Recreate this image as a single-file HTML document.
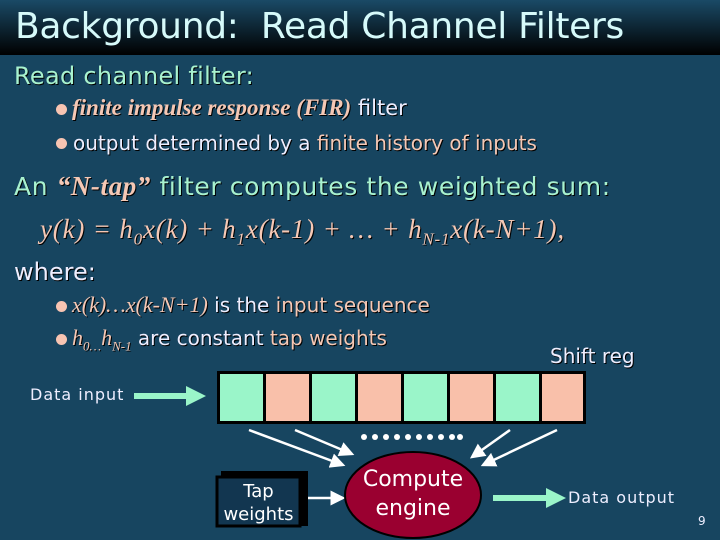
<html><head><style>
body{margin:0;width:720px;height:540px;overflow:hidden;background:#174560;font-family:"DejaVu Sans","Liberation Sans",sans-serif;position:relative}
.t{position:absolute;white-space:nowrap}
.s{font-family:"Liberation Serif",serif;font-style:italic}
.b{position:absolute;width:11px;height:11px;border-radius:50%;background:#f7c4b2}
</style></head><body>
<div style="position:absolute;left:0;top:0;width:720px;height:55px;background:linear-gradient(#1a4a66,#000)"></div>
<div class="t" style="left:15px;top:6px;font-size:36px;color:#d6fafa;letter-spacing:-0.3px">Background:&nbsp; Read Channel Filters</div>
<div class="t" style="left:14px;top:62px;font-size:24px;color:#a8f2cf;text-shadow:1px 1px #000;letter-spacing:0.3px">Read channel filter:</div>
<div class="b" style="left:56px;top:104px"></div>
<div class="t" style="left:72px;top:95px;font-size:21px;color:#f5c8b5;text-shadow:1px 1px #000"><span class="s" style="font-weight:bold;font-size:23px">finite impulse response (FIR)</span> <span style="color:#eef">filter</span></div>
<div class="b" style="left:56px;top:138px"></div>
<div class="t" style="left:73px;top:131px;font-size:20px;color:#eef;text-shadow:1px 1px #000">output determined by a <span style="color:#f5c8b5">finite history of inputs</span></div>
<div class="t" style="left:14px;top:171px;font-size:25px;color:#a8f2cf;text-shadow:1px 1px #000;letter-spacing:0.6px">An <span class="s" style="color:#f5c8b5;font-weight:bold;font-size:27px">“N-tap”</span> filter computes the weighted sum:</div>
<div class="t s" style="left:40px;top:214px;font-size:27px;color:#f5c8b5;text-shadow:1px 1px #000;letter-spacing:0.8px">y(k) = h<sub style="font-size:17px">0</sub>x(k) + h<sub style="font-size:17px">1</sub>x(k-1) + … + h<sub style="font-size:17px">N-1</sub>x(k-N+1),</div>
<div class="t" style="left:14px;top:258px;font-size:24px;color:#eef;text-shadow:1px 1px #000">where:</div>
<div class="b" style="left:56px;top:301px"></div>
<div class="t" style="left:72px;top:292px;font-size:20px;color:#eef;text-shadow:1px 1px #000"><span class="s" style="color:#f5c8b5;font-size:22px">x(k)…x(k-N+1)</span> is the <span style="color:#f5c8b5">input sequence</span></div>
<div class="b" style="left:56px;top:334px"></div>
<div class="t" style="left:72px;top:325px;font-size:20px;color:#eef;text-shadow:1px 1px #000"><span class="s" style="color:#f5c8b5;font-size:22px">h<sub style="font-size:13px">0…</sub>h<sub style="font-size:13px">N-1</sub></span> are constant <span style="color:#f5c8b5">tap weights</span></div>
<div class="t" style="left:550px;top:344px;font-size:20px;color:#eef;text-shadow:1px 1px #000">Shift reg</div>
<div class="t" style="left:30px;top:385px;font-size:16px;color:#eef;letter-spacing:1px">Data input</div>
<div class="t" style="left:568px;top:488px;font-size:16px;color:#eef;letter-spacing:1px">Data output</div>
<div class="t" style="left:698px;top:514px;font-size:12px;color:#eef">9</div>
<svg width="720" height="540" style="position:absolute;left:0;top:0">
<defs><marker id="a" markerWidth="6" markerHeight="6" refX="5" refY="3" orient="auto"><path d="M0,0L6,3L0,6z" fill="#fff"/></marker></defs>
<rect x="217" y="371" width="369" height="53" fill="#000"/>
<g>
<rect x="220" y="374" width="43" height="47" fill="#9af5c9"/>
<rect x="266" y="374" width="43" height="47" fill="#f9c0aa"/>
<rect x="312" y="374" width="43" height="47" fill="#9af5c9"/>
<rect x="358" y="374" width="43" height="47" fill="#f9c0aa"/>
<rect x="404" y="374" width="43" height="47" fill="#9af5c9"/>
<rect x="450" y="374" width="43" height="47" fill="#f9c0aa"/>
<rect x="496" y="374" width="43" height="47" fill="#9af5c9"/>
<rect x="542" y="374" width="41" height="47" fill="#f9c0aa"/>
</g>
<path d="M134,396H190" stroke="#9af5c9" stroke-width="6"/><path d="M186,386L206,396L186,406z" fill="#9af5c9"/>
<path d="M493,498H550" stroke="#9af5c9" stroke-width="6"/><path d="M546,488L566,498L546,508z" fill="#9af5c9"/>
<g fill="#fff"><circle cx="364" cy="437" r="3"/><circle cx="375" cy="437" r="3"/><circle cx="386" cy="437" r="3"/><circle cx="397" cy="437" r="3"/><circle cx="408" cy="437" r="3"/><circle cx="419" cy="437" r="3"/><circle cx="430" cy="437" r="3"/><circle cx="441" cy="437" r="3"/><circle cx="452" cy="437" r="3"/><circle cx="460" cy="437" r="3"/></g>
<g stroke="#fff" stroke-width="2.5" marker-end="url(#a)">
<line x1="249" y1="430" x2="343" y2="465"/>
<line x1="295" y1="430" x2="352" y2="454"/>
<line x1="510" y1="430" x2="472" y2="457"/>
<line x1="557" y1="430" x2="483" y2="465"/>
<line x1="306" y1="498" x2="343" y2="498"/>
</g>
<ellipse cx="413" cy="495" rx="68" ry="43" fill="#9a0030" stroke="#000" stroke-width="2"/>
<rect x="221" y="471" width="87" height="55" fill="#000"/>
<rect x="217" y="477" width="83" height="49" fill="#123650" stroke="#000" stroke-width="3"/>
</svg>
<div class="t" style="left:215px;top:480px;width:87px;text-align:center;font-size:18px;color:#fff;line-height:23px">Tap<br>weights</div>
<div class="t" style="left:345px;top:465px;width:136px;text-align:center;font-size:22px;color:#fff;line-height:29px">Compute<br>engine</div>
</body></html>
